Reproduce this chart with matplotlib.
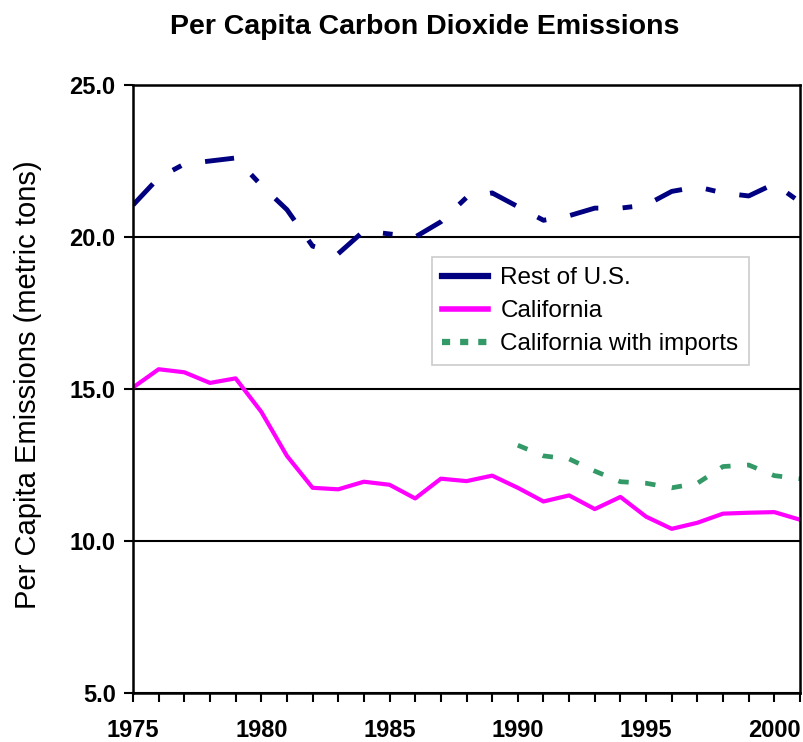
import matplotlib.pyplot as plt
from matplotlib.lines import Line2D
from matplotlib.ticker import MultipleLocator, FormatStrFormatter

plt.rcParams['font.family'] = ['Liberation Sans', 'DejaVu Sans']

years = list(range(1975, 2002))
rest_us = [21.05, 21.95, 22.4, 22.5, 22.6, 21.7, 20.9, 19.7, 19.45, 20.2, 20.1, 20.0, 20.5,
           21.3, 21.45, 21.0, 20.55, 20.7, 20.95, 20.95, 21.05, 21.5, 21.65, 21.45, 21.35, 21.75, 21.15]
california = [15.05, 15.65, 15.55, 15.2, 15.35, 14.25, 12.8, 11.75, 11.7, 11.95, 11.85, 11.4, 12.05,
              11.97, 12.15, 11.75, 11.3, 11.5, 11.05, 11.45, 10.8, 10.4, 10.6, 10.9, 10.93, 10.95, 10.7]
imp_years = list(range(1990, 2002))
ca_imports = [13.15, 12.8, 12.7, 12.3, 11.95, 11.9, 11.75, 11.9, 12.45, 12.5, 12.15, 12.05]

labels = ['Rest of U.S.', 'California', 'California with imports']
colors = ['#000080', '#ff00ff', '#339966']

fig = plt.figure(figsize=(8.04, 7.42), dpi=100)
ax = fig.add_axes([133/804, 1-693/742, 667/804, 608/742])

ax.plot(years, rest_us, color=colors[0], lw=3.5, dashes=[6, 5, 2, 5], solid_capstyle='butt')
ax.plot(years, california, color=colors[1], lw=3.0)
ax.plot(imp_years, ca_imports, color=colors[2], lw=3.4, dashes=[2.2, 3.5])

ax.set_xlim(1975, 2001)
ax.set_ylim(5, 25)
ax.yaxis.set_major_locator(MultipleLocator(5))
ax.yaxis.set_major_formatter(FormatStrFormatter('%.1f'))
ax.xaxis.set_major_locator(MultipleLocator(5))
ax.xaxis.set_minor_locator(MultipleLocator(1))
ax.grid(axis='y', color='black', lw=1.5)
for s in ax.spines.values():
    s.set_linewidth(1.8)
ax.tick_params(axis='both', which='both', direction='out', length=6.5, width=1.5, colors='black')
ax.tick_params(axis='x', which='major', pad=12.5)
ax.tick_params(axis='y', pad=6)
for t in ax.get_xticklabels() + ax.get_yticklabels():
    t.set_fontsize(17)
    t.set_fontweight('bold')

fig.text(28/804, 1-385/742, 'Per Capita Emissions (metric tons)', rotation=90,
         ha='center', va='center', fontsize=21)
fig.text(425/804, 1-27/742, 'Per Capita Carbon Dioxide Emissions', ha='center', va='center',
         fontsize=20.5, fontweight='bold')

handles = [Line2D([], [], color=colors[0], lw=4.5),
           Line2D([], [], color=colors[1], lw=4),
           Line2D([], [], color=colors[2], lw=4.5, dashes=[1.3, 1.6])]
leg = ax.legend(handles, labels, loc='upper left', bbox_to_anchor=(0.448, 0.717), borderaxespad=0,
                fontsize=17.5, fancybox=False, framealpha=1, edgecolor='#cccccc',
                handlelength=1.9, handletextpad=0.5, labelspacing=0.45, borderpad=0.42)
leg.get_frame().set_linewidth(1.2)

fig.savefig('out.png', dpi=100)
